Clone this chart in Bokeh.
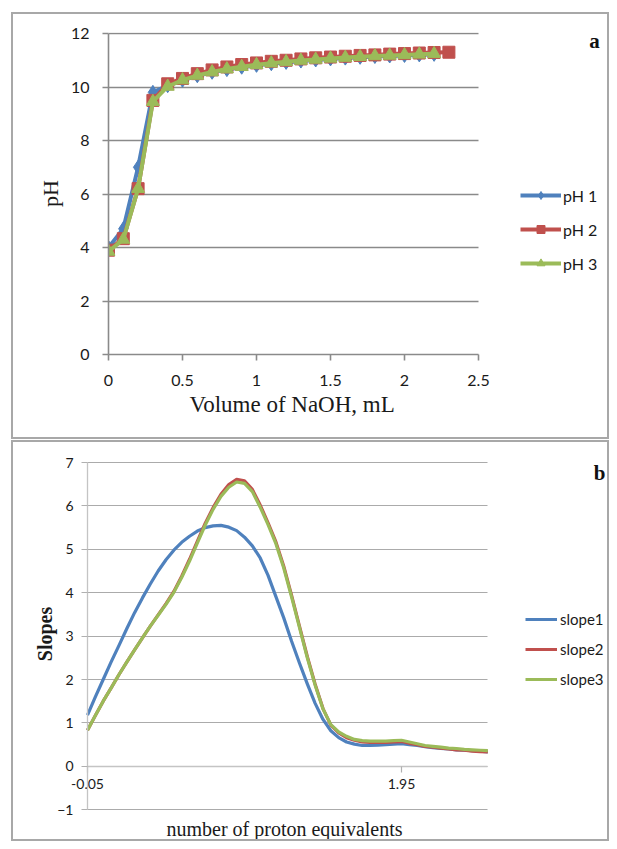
from bokeh.plotting import figure
from bokeh.models import (Range1d, FixedTicker, Legend, LegendItem, Title, LinearAxis, Label)
from bokeh.embed import file_html
from bokeh.resources import INLINE

# ---------------- data: panel a ----------------
volume = [0.0, 0.1, 0.2, 0.3, 0.4, 0.5, 0.6, 0.7, 0.8, 0.9, 1.0, 1.1,
          1.2, 1.3, 1.4, 1.5, 1.6, 1.7, 1.8, 1.9, 2.0, 2.1, 2.2, 2.3]
ph1 = [4.0, 4.7, 7.0, 9.8, 10.05, 10.25, 10.42, 10.55, 10.65, 10.74, 10.81, 10.87,
       10.92, 10.97, 11.01, 11.05, 11.08, 11.11, 11.14, 11.16, 11.18, 11.2, 11.22]
ph2 = [3.9, 4.33, 6.2, 9.5, 10.12, 10.32, 10.5, 10.64, 10.75, 10.84, 10.9, 10.96,
       11.0, 11.05, 11.09, 11.12, 11.15, 11.18, 11.2, 11.23, 11.25, 11.27, 11.29, 11.3]
ph3 = [3.85, 4.3, 6.2, 9.45, 10.02, 10.26, 10.43, 10.56, 10.67, 10.76, 10.83, 10.89,
       10.94, 10.99, 11.03, 11.07, 11.1, 11.13, 11.16, 11.18, 11.2, 11.22, 11.24]
a_xticks = [0, 0.5, 1, 1.5, 2, 2.5]
a_xlabels = ["0", "0.5", "1", "1.5", "2", "2.5"]
a_yticks = [0, 2, 4, 6, 8, 10, 12]

# ---------------- data: panel b ----------------
equiv = [-0.05, 0.0, 0.05, 0.1, 0.15, 0.2, 0.25, 0.3, 0.35, 0.4, 0.45, 0.5,
         0.55, 0.6, 0.65, 0.7, 0.75, 0.8, 0.85, 0.9, 0.95, 1.0, 1.05, 1.1,
         1.15, 1.2, 1.25, 1.3, 1.35, 1.4, 1.45, 1.5, 1.55, 1.6, 1.65, 1.7,
         1.75, 1.8, 1.85, 1.9, 1.95, 2.0, 2.05, 2.1, 2.15, 2.2, 2.25, 2.3,
         2.35, 2.4, 2.45, 2.5]
slope1 = [1.18, 1.6, 2.0, 2.4, 2.78, 3.17, 3.54, 3.88, 4.2, 4.5, 4.76, 4.98,
          5.16, 5.3, 5.42, 5.5, 5.54, 5.55, 5.51, 5.43, 5.28, 5.08, 4.8, 4.4,
          3.91, 3.42, 2.88, 2.38, 1.9, 1.45, 1.08, 0.82, 0.66, 0.56, 0.51, 0.48,
          0.48, 0.49, 0.5, 0.51, 0.52, 0.5, 0.48, 0.45, 0.43, 0.41, 0.4, 0.38,
          0.37, 0.36, 0.35, 0.33]
slope2 = [0.83, 1.17, 1.5, 1.8, 2.11, 2.4, 2.68, 2.96, 3.23, 3.49, 3.75, 4.03,
          4.38, 4.77, 5.19, 5.6, 5.96, 6.27, 6.49, 6.61, 6.58, 6.38, 6.02, 5.61,
          5.17, 4.61, 3.94, 3.23, 2.53, 1.89, 1.33, 0.95, 0.77, 0.66, 0.6, 0.56,
          0.55, 0.55, 0.55, 0.56, 0.57, 0.53, 0.5, 0.46, 0.44, 0.42, 0.4, 0.38,
          0.37, 0.35, 0.34, 0.33]
slope3 = [0.83, 1.17, 1.5, 1.8, 2.11, 2.4, 2.68, 2.96, 3.23, 3.48, 3.73, 4.01,
          4.35, 4.73, 5.15, 5.56, 5.92, 6.22, 6.43, 6.55, 6.52, 6.33, 5.97, 5.57,
          5.13, 4.57, 3.9, 3.2, 2.5, 1.87, 1.32, 0.96, 0.79, 0.69, 0.62, 0.59,
          0.58, 0.58, 0.58, 0.59, 0.6, 0.56, 0.52, 0.48, 0.46, 0.44, 0.42, 0.41,
          0.39, 0.38, 0.37, 0.36]
b_xticks = [-0.05, 1.95]
b_xlabels = ["-0.05", "1.95"]
b_yticks = [-1, 0, 1, 2, 3, 4, 5, 6, 7]

BLUE, RED, GREEN = "#4F81BD", "#C0504D", "#9BBB59"
SANS = "Lato"
SERIF = "Liberation Serif"
TXT = "#1a1a1a"
BORDER = {"border": "2px solid #a8a8a8"}


def key(v):
    return int(v) if float(v).is_integer() else v


def limit_grid(p, grid, ticks, x0, x1, color, width):
    g = grid[0]
    if "cross_bounds" in g.properties():
        g.cross_bounds = (x0, x1)
    else:
        g.visible = False
        n = len(ticks)
        p.segment(x0=[x0] * n, y0=ticks, x1=[x1] * n, y1=ticks,
                  line_color=color, line_width=width, level="underlay")


# ================= panel a =================
a_px_per_x = 148.0
a_px_per_y = 26.75
pa = figure(width=598, height=427, output_backend="svg", toolbar_location=None,
            x_range=Range1d(0, 2.5 + 133 / a_px_per_x),
            y_range=Range1d(0, 12 + 1 / a_px_per_y),
            min_border_left=95, min_border_right=0, min_border_top=18,
            min_border_bottom=87)
pa.styles = BORDER
pa.margin = (12, 0, 0, 11)
pa.outline_line_color = None
pa.xgrid.visible = False
pa.ygrid.grid_line_color = "#8a8a8a"
pa.ygrid.grid_line_width = 1.6
pa.ygrid.ticker = FixedTicker(ticks=a_yticks)
limit_grid(pa, pa.ygrid, a_yticks, 0, 2.5, "#8a8a8a", 1.6)

ax_x = pa.xaxis[0]
ax_y = pa.yaxis[0]
ax_x.ticker = FixedTicker(ticks=a_xticks)
ax_x.major_label_overrides = {key(t): l for t, l in zip(a_xticks, a_xlabels)}
ax_x.bounds = (0, 2.5)
ax_y.ticker = FixedTicker(ticks=a_yticks)
ax_y.bounds = (0, 12)
for ax in (ax_x, ax_y):
    ax.axis_line_color = "#8a8a8a"
    ax.axis_line_width = 1.6
    ax.major_tick_line_color = "#8a8a8a"
    ax.major_tick_line_width = 1.6
    ax.major_tick_out = 6
    ax.major_tick_in = 0
    ax.minor_tick_out = 0
    ax.minor_tick_in = 0
    ax.major_label_text_font = SANS
    ax.major_label_text_font_size = "16px"
    ax.major_label_text_color = TXT
ax_y.axis_label = "pH"
ax_y.axis_label_text_font = SERIF
ax_y.axis_label_text_font_size = "22px"
ax_y.axis_label_text_font_style = "normal"
ax_y.axis_label_text_color = TXT
ax_x.major_label_standoff = 14
ax_y.major_label_standoff = 13
ax_y.axis_label_standoff = 5
pa.add_layout(Title(text="Volume of NaOH, mL", align="left",
                    text_font=SERIF, text_font_size="23px", text_font_style="normal",
                    text_color=TXT, standoff=3, offset=81), "below")

l1 = pa.line(volume[:len(ph1)], ph1, line_color=BLUE, line_width=4, line_join="round")
m1 = pa.scatter(volume[:len(ph1)], ph1, marker="diamond", size=14,
                fill_color=BLUE, line_color=BLUE)
l2 = pa.line(volume[:len(ph2)], ph2, line_color=RED, line_width=4, line_join="round")
m2 = pa.scatter(volume[:len(ph2)], ph2, marker="square", size=12,
                fill_color=RED, line_color=RED)
l3 = pa.line(volume[:len(ph3)], ph3, line_color=GREEN, line_width=4, line_join="round")
m3 = pa.scatter(volume[:len(ph3)], ph3, marker="triangle", size=13,
                fill_color=GREEN, line_color=GREEN)

leg_a = Legend(items=[LegendItem(label="pH 1", renderers=[l1, m1]),
                      LegendItem(label="pH 2", renderers=[l2, m2]),
                      LegendItem(label="pH 3", renderers=[l3, m3])],
               location=(412, 81), orientation="vertical",
               glyph_width=41, glyph_height=20, label_height=20, label_standoff=2,
               spacing=14, padding=0, margin=0,
               label_text_font=SANS, label_text_font_size="16px", label_text_color=TXT,
               border_line_alpha=0, background_fill_alpha=0)
pa.add_layout(leg_a)
pa.add_layout(Label(x=579, y=24, x_units="canvas", y_units="canvas", text="a",
                    text_font=SERIF, text_font_size="21px", text_font_style="bold",
                    text_align="center", text_baseline="middle", text_color="#111111"))

# ================= panel b =================
b_px_per_x = 157.0
b_px_per_y = 43.4
b_ytop = 7 + 10 / b_px_per_y
pb = figure(width=598, height=401, output_backend="svg", toolbar_location=None,
            x_range=Range1d(-0.05 - 32 / b_px_per_x, -0.05 + 524 / b_px_per_x),
            y_range=Range1d(b_ytop - 363 / b_px_per_y, b_ytop),
            min_border_left=42, min_border_right=0, min_border_top=10,
            min_border_bottom=28)
pb.styles = BORDER
pb.margin = (1, 0, 0, 11)
pb.outline_line_color = None
pb.xgrid.visible = False
pb.ygrid.grid_line_color = "#ababab"
pb.ygrid.grid_line_width = 1.2
pb.ygrid.ticker = FixedTicker(ticks=b_yticks)
limit_grid(pb, pb.ygrid, b_yticks, -0.05, 2.5, "#ababab", 1.2)

bx = pb.xaxis[0]
yl = pb.yaxis[0]
yl.ticker = FixedTicker(ticks=[])
yl.axis_line_color = None
yl.major_tick_line_color = None
yl.minor_tick_line_color = None
yl.axis_label = "Slopes"
yl.axis_label_text_font = SERIF
yl.axis_label_text_font_size = "20px"
yl.axis_label_text_font_style = "bold"
yl.axis_label_text_color = TXT
yl.axis_label_standoff = 0
# x axis crossing at y = 0
bx.ticker = FixedTicker(ticks=b_xticks)
bx.fixed_location = 0
bx.bounds = (-0.05, 2.5)
bx.major_label_overrides = {key(t): l for t, l in zip(b_xticks, b_xlabels)}
# y axis with ticks at x = -0.05
ytick_axis = LinearAxis(fixed_location=-0.05, ticker=FixedTicker(ticks=b_yticks),
                        bounds=(-1, 7))
pb.add_layout(ytick_axis, "left")
for ax in (bx, ytick_axis):
    ax.axis_line_color = "#c4c4c4"
    ax.axis_line_width = 1.3
    ax.major_tick_line_color = "#b0b0b0"
    ax.major_tick_line_width = 1.2
    ax.major_tick_out = 6
    ax.major_tick_in = 0
    ax.minor_tick_out = 0
    ax.minor_tick_in = 0
    ax.major_label_text_font = SANS
    ax.major_label_text_font_size = "14px"
    ax.major_label_text_color = TXT
bx.major_label_standoff = 7
ytick_axis.major_label_standoff = 8
pb.add_layout(Title(text="number of proton equivalents", align="left",
                    text_font=SERIF, text_font_size="20px", text_font_style="normal",
                    text_color=TXT, standoff=0, offset=111), "below")

s1 = pb.line(equiv, slope1, line_color=BLUE, line_width=3.2, line_join="round")
s2 = pb.line(equiv, slope2, line_color=RED, line_width=3.2, line_join="round")
s3 = pb.line(equiv, slope3, line_color=GREEN, line_width=3.2, line_join="round")

leg_b = Legend(items=[LegendItem(label="slope1", renderers=[s1]),
                      LegendItem(label="slope2", renderers=[s2]),
                      LegendItem(label="slope3", renderers=[s3])],
               location=(470, 126), orientation="vertical",
               glyph_width=32, glyph_height=20, label_height=20, label_standoff=3,
               spacing=10, padding=0, margin=0,
               label_text_font=SANS, label_text_font_size="15px", label_text_color=TXT,
               border_line_alpha=0, background_fill_alpha=0)
pb.add_layout(leg_b)
pb.add_layout(Label(x=584, y=28, x_units="canvas", y_units="canvas", text="b",
                    text_font=SERIF, text_font_size="21px", text_font_style="bold",
                    text_align="center", text_baseline="middle", text_color="#111111"))

open("out.html", "w").write(file_html([pa, pb], INLINE))
